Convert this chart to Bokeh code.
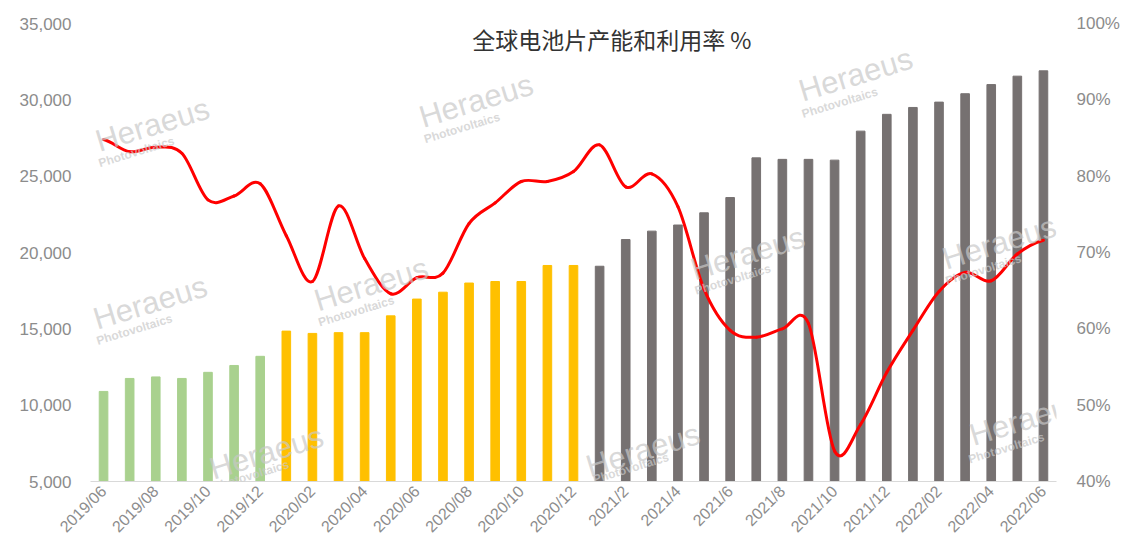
import math
import numpy as np
from bokeh.plotting import figure
from bokeh.models import (Range1d, LinearAxis, SingleIntervalTicker, NumeralTickFormatter,
                          PrintfTickFormatter, FixedTicker, Label, ColumnDataSource)
from bokeh.embed import file_html
from bokeh.resources import INLINE

# ---------------- data ----------------
months = ["2019/06", "2019/07", "2019/08", "2019/09", "2019/10", "2019/11", "2019/12",
          "2020/01", "2020/02", "2020/03", "2020/04", "2020/05", "2020/06", "2020/07",
          "2020/08", "2020/09", "2020/10", "2020/11", "2020/12",
          "2021/1", "2021/2", "2021/3", "2021/4", "2021/5", "2021/6", "2021/7",
          "2021/8", "2021/9", "2021/10", "2021/11", "2021/12",
          "2022/01", "2022/02", "2022/03", "2022/04", "2022/05", "2022/06"]

capacity = [10900, 11750, 11850, 11750, 12150, 12600, 13200,
            14850, 14700, 14750, 14750, 15850, 16950, 17400,
            18000, 18100, 18100, 19150, 19150,
            19100, 20850, 21400, 21800, 22600, 23600, 26200,
            26100, 26100, 26050, 27950, 29050,
            29500, 29850, 30400, 31000, 31550, 31900]

utilization = [84.8, 83.2, 83.8, 83.0, 76.9, 77.4, 79.0,
               72.2, 66.2, 76.1, 69.2, 64.6, 66.7, 67.3,
               73.8, 76.5, 79.3, 79.3, 80.6,
               84.1, 78.6, 80.3, 76.0, 65.2, 59.8, 58.9,
               60.0, 60.7, 44.0, 47.5, 54.3,
               59.8, 64.9, 67.4, 66.3, 69.8, 71.6]

title_text = "全球电池片产能和利用率 %"
watermark_main = "Heraeus"
watermark_sub = "Photovoltaics"

year_colors = {"2019": "#a9d18e", "2020": "#ffc000", "2021": "#767171", "2022": "#767171"}

# ---------------- figure ----------------
n = len(months)
x = np.arange(n)
colors = [year_colors[m[:4]] for m in months]

p = figure(width=1122, height=544,
           x_range=Range1d(-0.5, n - 0.5), y_range=Range1d(5000, 35000),
           output_backend="svg", toolbar_location=None,
           min_border_left=90, min_border_right=65, min_border_top=23, min_border_bottom=63)
p.extra_y_ranges = {"pct": Range1d(40, 100)}
p.outline_line_color = None
p.grid.visible = False
p.background_fill_color = "white"
p.border_fill_color = "white"

src = ColumnDataSource(dict(x=x, cap=capacity, color=colors))
p.vbar(x="x", top="cap", bottom=p.y_range.start, width=0.33,
       fill_color="color", line_color="color", source=src)

# smoothed (Excel-like) utilisation line drawn with bezier segments
u = np.array(utilization, dtype=float)
pp = np.concatenate([[u[0]], u, [u[-1]]])
bz = ColumnDataSource(dict(
    x0=x[:-1], y0=u[:-1], x1=x[1:], y1=u[1:],
    cx0=x[:-1] + 1 / 3, cy0=u[:-1] + (pp[2:n + 1] - pp[0:n - 1]) / 6,
    cx1=x[1:] - 1 / 3, cy1=u[1:] - (pp[3:n + 2] - pp[1:n]) / 6))
p.bezier(x0="x0", y0="y0", x1="x1", y1="y1", cx0="cx0", cy0="cy0", cx1="cx1", cy1="cy1",
         line_color="#ff0000", line_width=3, line_cap="round", y_range_name="pct", source=bz)

label_color = "#8c8c8c"
font = "Liberation Sans"

# left axis
ya = p.yaxis[0]
ya.ticker = SingleIntervalTicker(interval=5000)
ya.formatter = NumeralTickFormatter(format="0,0")
ya.axis_line_color = None
ya.major_tick_line_color = None
ya.minor_tick_line_color = None
ya.major_tick_out = 0
ya.major_tick_in = 0
ya.major_label_standoff = 15
ya.major_label_text_font_size = "17px"
ya.major_label_text_color = label_color
ya.major_label_text_font = font

# right axis
ra = LinearAxis(y_range_name="pct", ticker=SingleIntervalTicker(interval=10),
                formatter=PrintfTickFormatter(format="%d%%"))
ra.axis_line_color = None
ra.major_tick_line_color = None
ra.minor_tick_line_color = None
ra.major_tick_out = 0
ra.major_tick_in = 0
ra.major_label_standoff = 16
ra.major_label_text_font_size = "17px"
ra.major_label_text_color = label_color
ra.major_label_text_font = font
p.add_layout(ra, "right")

# bottom axis
xa = p.xaxis[0]
tick_idx = [int(i) for i in x[::2]]
xa.ticker = FixedTicker(ticks=tick_idx)
xa.major_label_overrides = {i: months[i] for i in tick_idx}
xa.major_label_orientation = math.pi / 4
xa.axis_line_color = "#d9d9d9"
xa.axis_line_width = 1
xa.major_tick_line_color = None
xa.minor_tick_line_color = None
xa.major_tick_out = 0
xa.major_tick_in = 0
xa.major_label_standoff = 7
xa.major_label_text_font_size = "16px"
xa.major_label_text_color = label_color
xa.major_label_text_font = font

# title inside the plot area
p.add_layout(Label(x=19.47, y=34000, text=title_text, text_align="center",
                   text_baseline="middle", text_font="Noto Sans CJK SC",
                   text_font_size="23px", text_color="#333333"))

# watermarks
wm_main_pos = [(1.87, 28360), (14.27, 29940), (28.81, 31650), (1.79, 16720),
               (10.25, 17920), (24.67, 19940), (6.24, 6900), (20.66, 7060),
               (35.35, 9100), (34.31, 20650)]
wm_sub_pos = [(1.26, 26590), (13.73, 28160), (28.20, 29810), (1.18, 14950),
              (9.68, 16150), (24.10, 18230), (5.65, 5390), (20.20, 5870),
              (34.58, 7190), (33.70, 18880)]
ang = math.radians(17)
for (wx, wy) in wm_main_pos:
    p.add_layout(Label(x=wx, y=wy, text=watermark_main, angle=ang, text_align="center",
                       text_baseline="middle", text_font=font, text_font_size="31px",
                       text_color="#c8c8c8", text_alpha=0.7))
for (wx, wy) in wm_sub_pos:
    p.add_layout(Label(x=wx, y=wy, text=watermark_sub, angle=ang, text_align="center",
                       text_baseline="middle", text_font=font, text_font_size="12px",
                       text_font_style="bold", text_color="#c8c8c8", text_alpha=0.7))

open("out.html", "w").write(file_html(p, INLINE))
